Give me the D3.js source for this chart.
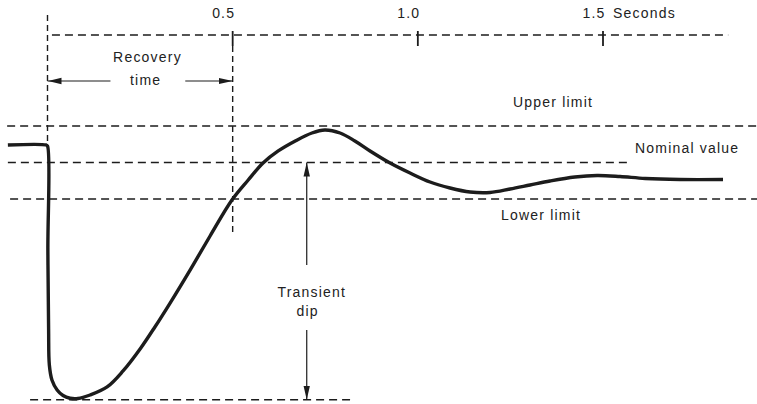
<!DOCTYPE html>
<html>
<head>
<meta charset="utf-8">
<script src="https://d3js.org/d3.v7.min.js"></script>
<style>
  body { margin: 0; background: #fff; }
  text { font-family: "Liberation Sans", Arial, sans-serif; font-size: 14px; letter-spacing: 1.2px; fill: #222; }
</style>
</head>
<body>
<script>
// time (s) and output (% of nominal)
const timeValues = [-0.107, -0.004, 0, 0.001, 0.003, 0.005, 0.012, 0.026, 0.042, 0.061, 0.082, 0.115, 0.161,
  0.204, 0.250, 0.290, 0.331, 0.385, 0.439, 0.498, 0.542, 0.582, 0.623, 0.669, 0.714, 0.749,
  0.790, 0.830, 0.871, 0.925, 0.979, 1.033, 1.087, 1.141, 1.195, 1.249, 1.303, 1.357, 1.424,
  1.484, 1.546, 1.614, 1.708, 1.824]
const responseValues = [102.4, 102.4, 102.26, 88.0, 77.05, 72.26, 70.21, 68.84, 68.08, 67.71, 67.67, 68.15, 69.25,
  71.44, 74.45, 77.47, 80.75, 85.27, 89.93, 94.86, 97.6, 99.93, 101.58, 102.95, 104.04, 104.45,
  104.04, 102.95, 101.58, 99.93, 98.56, 97.33, 96.51, 95.96, 95.89, 96.37, 96.92, 97.47, 98.01,
  98.22, 98.08, 97.81, 97.67, 97.67]

const tickValues = [0.5, 1.0, 1.5]
const tickLabels = ["0.5", "1.0", "1.5"]
const axisUnit = "Seconds"

const limitValues = [105, 100, 95]
const limitLabels = ["Upper limit", "Nominal value", "Lower limit"]
const limitStart = [-0.109, -0.107, -0.101]
const limitEnd = [1.916, 1.573, 1.916]

const recoveryTime = 0.5
const dipValue = 67.5
const dipMarkTime = 0.70

const w = 757, h = 404
const x = d3.scaleLinear().domain([0, 1.5]).range([47.5, 603])
const y = d3.scaleLinear().domain([95, 105]).range([199, 126])
const ink = "#1c1c1c"
const dash = "8,5"

const svg = d3.select("body").append("svg").attr("width", w).attr("height", h)

const defs = svg.append("defs")
defs.append("marker").attr("id", "arrow")
  .attr("viewBox", "0 0 14 8").attr("refX", 14).attr("refY", 4)
  .attr("markerWidth", 14).attr("markerHeight", 8)
  .attr("markerUnits", "userSpaceOnUse").attr("orient", "auto-start-reverse")
  .append("path").attr("d", "M0,0.8 L14,4 L0,7.2 Z").attr("fill", ink)

// time axis along the top
const axisY = 35
svg.append("line")
  .attr("x1", x(0.012)).attr("x2", x(1.838)).attr("y1", axisY).attr("y2", axisY)
  .attr("stroke", ink).attr("stroke-width", 1.4).attr("stroke-dasharray", dash)
svg.selectAll(".tick").data(tickValues).enter().append("line")
  .attr("x1", d => x(d)).attr("x2", d => x(d)).attr("y1", axisY - 4).attr("y2", axisY + 11)
  .attr("stroke", ink).attr("stroke-width", 1.8)
svg.selectAll(".ticklabel").data(tickValues).enter().append("text")
  .attr("x", d => x(d) - 9).attr("y", 18).attr("text-anchor", "middle")
  .text((d, i) => tickLabels[i])
svg.append("text").attr("x", x(1.5) + 10).attr("y", 18).text(axisUnit)

// vertical guides at the step and at recovery
svg.append("line")
  .attr("x1", x(0)).attr("x2", x(0)).attr("y1", 15).attr("y2", y(responseValues[0]))
  .attr("stroke", ink).attr("stroke-width", 1.4).attr("stroke-dasharray", "6,4")
svg.append("line")
  .attr("x1", x(recoveryTime)).attr("x2", x(recoveryTime)).attr("y1", axisY + 11).attr("y2", 232)
  .attr("stroke", ink).attr("stroke-width", 1.4).attr("stroke-dasharray", "6,4")

// limit lines
svg.selectAll(".limit").data(limitValues).enter().append("line")
  .attr("x1", (d, i) => x(limitStart[i])).attr("x2", (d, i) => x(limitEnd[i]))
  .attr("y1", d => y(d)).attr("y2", d => y(d))
  .attr("stroke", ink).attr("stroke-width", 1.4).attr("stroke-dasharray", dash)
svg.append("line")
  .attr("x1", x(-0.047)).attr("x2", x(0.817)).attr("y1", y(dipValue)).attr("y2", y(dipValue))
  .attr("stroke", ink).attr("stroke-width", 1.4).attr("stroke-dasharray", dash)

// limit labels
svg.append("text").attr("x", 553).attr("y", 107).attr("text-anchor", "middle").text(limitLabels[0])
svg.append("text").attr("x", 635).attr("y", 153).text(limitLabels[1])
svg.append("text").attr("x", 541).attr("y", 220).attr("text-anchor", "middle").text(limitLabels[2])

// recovery time arrow
const recY = 81
svg.append("line").attr("x1", x(0.17)).attr("x2", x(0)).attr("y1", recY).attr("y2", recY)
  .attr("stroke", ink).attr("stroke-width", 1.2).attr("marker-end", "url(#arrow)")
svg.append("line").attr("x1", x(0.372)).attr("x2", x(recoveryTime)).attr("y1", recY).attr("y2", recY)
  .attr("stroke", ink).attr("stroke-width", 1.2).attr("marker-end", "url(#arrow)")
svg.append("text").attr("x", x(0.27)).attr("y", 62).attr("text-anchor", "middle").text("Recovery")
svg.append("text").attr("x", x(0.265)).attr("y", 85).attr("text-anchor", "middle").text("time")

// transient dip arrow
svg.append("line").attr("x1", x(dipMarkTime)).attr("x2", x(dipMarkTime)).attr("y1", 265).attr("y2", y(100))
  .attr("stroke", ink).attr("stroke-width", 1.2).attr("marker-end", "url(#arrow)")
svg.append("line").attr("x1", x(dipMarkTime)).attr("x2", x(dipMarkTime)).attr("y1", 330).attr("y2", y(dipValue))
  .attr("stroke", ink).attr("stroke-width", 1.2).attr("marker-end", "url(#arrow)")
svg.append("text").attr("x", x(dipMarkTime) + 5).attr("y", 297).attr("text-anchor", "middle").text("Transient")
svg.append("text").attr("x", x(dipMarkTime) + 1).attr("y", 316).attr("text-anchor", "middle").text("dip")

// response trace
const trace = d3.line()
  .x((d, i) => x(timeValues[i]))
  .y(d => y(d))
  .curve(d3.curveCatmullRom.alpha(0.5))
svg.append("path").datum(responseValues)
  .attr("d", trace)
  .attr("fill", "none").attr("stroke", ink).attr("stroke-width", 3.4)
  .attr("stroke-linejoin", "round")
</script>
</body>
</html>
